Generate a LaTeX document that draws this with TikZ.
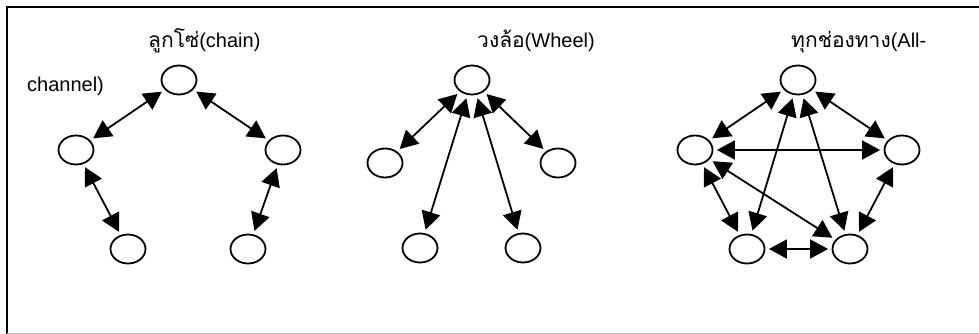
\documentclass[tikz,border=0pt]{standalone}
\usepackage{fontspec}
\setmainfont{Liberation Sans}
\newfontfamily\thaifont[Script=Thai]{Loma}
\usetikzlibrary{arrows.meta,shapes.geometric}
\begin{document}
\begin{tikzpicture}[x=1pt,y=-1pt,
  member/.style={draw=black,line width=1.8pt,ellipse,minimum width=35pt,minimum height=29pt,inner sep=0pt},
  link/.style={line width=1.8pt,{Triangle[length=18pt,width=19pt]}-{Triangle[length=18pt,width=19pt]},shorten <=3.5pt,shorten >=3.5pt},
  title/.style={anchor=base west,inner sep=0pt,font=\fontsize{20}{22}\selectfont}]
\useasboundingbox (0,0) rectangle (979,334);
\fill[white] (0,0) rectangle (979,334);
% frame
\draw[line width=2pt,black] (7,334) -- (7,7) -- (979,7);
\draw[line width=1pt,black!25] (7,333) -- (979,333);

% titles
\node[title] (t1) at (148,48) {{\thaifont\fontsize{21}{22}\selectfont ลูกโซ่}(chain)};
\node[title] (t2) at (477,48) {{\thaifont\fontsize{21}{22}\selectfont วงล้อ}(Wheel)};
\node[title] (t3) at (791,48) {{\thaifont\fontsize{21}{22}\selectfont ทุกช่องทาง}(All-};
\node[title] (t4) at (27,92) {channel)};

% chain
\node[member] (c1) at (179,80) {};
\node[member] (c2) at (76,150) {};
\node[member] (c3) at (283,150) {};
\node[member] (c4) at (128,249) {};
\node[member] (c5) at (248,249) {};
\draw[link] (c2) -- (c1);
\draw[link] (c1) -- (c3);
\draw[link] (c2) -- (c4);
\draw[link] (c3) -- (c5);

% wheel
\node[member] (w1) at (472,80) {};
\node[member] (w2) at (385,163) {};
\node[member] (w3) at (558,163) {};
\node[member] (w4) at (420,248) {};
\node[member] (w5) at (523,248) {};
\draw[link] (w2) -- (w1);
\draw[link] (w1) -- (w3);
\draw[link] (w1) -- (w4);
\draw[link] (w1) -- (w5);

% all-channel
\node[member] (a1) at (798,80) {};
\node[member] (a2) at (695,150) {};
\node[member] (a3) at (902,150) {};
\node[member] (a4) at (747,249) {};
\node[member] (a5) at (850,249) {};
\draw[link] (a2) -- (a1);
\draw[link] (a1) -- (a3);
\draw[link] (a2) -- (a3);
\draw[link] (a2) -- (a4);
\draw[link] (a3) -- (a5);
\draw[link] (a4) -- (a5);
\draw[link] (a1) -- (a4);
\draw[link] (a1) -- (a5);
\draw[link] (a2) -- (a5);
\end{tikzpicture}
\end{document}
